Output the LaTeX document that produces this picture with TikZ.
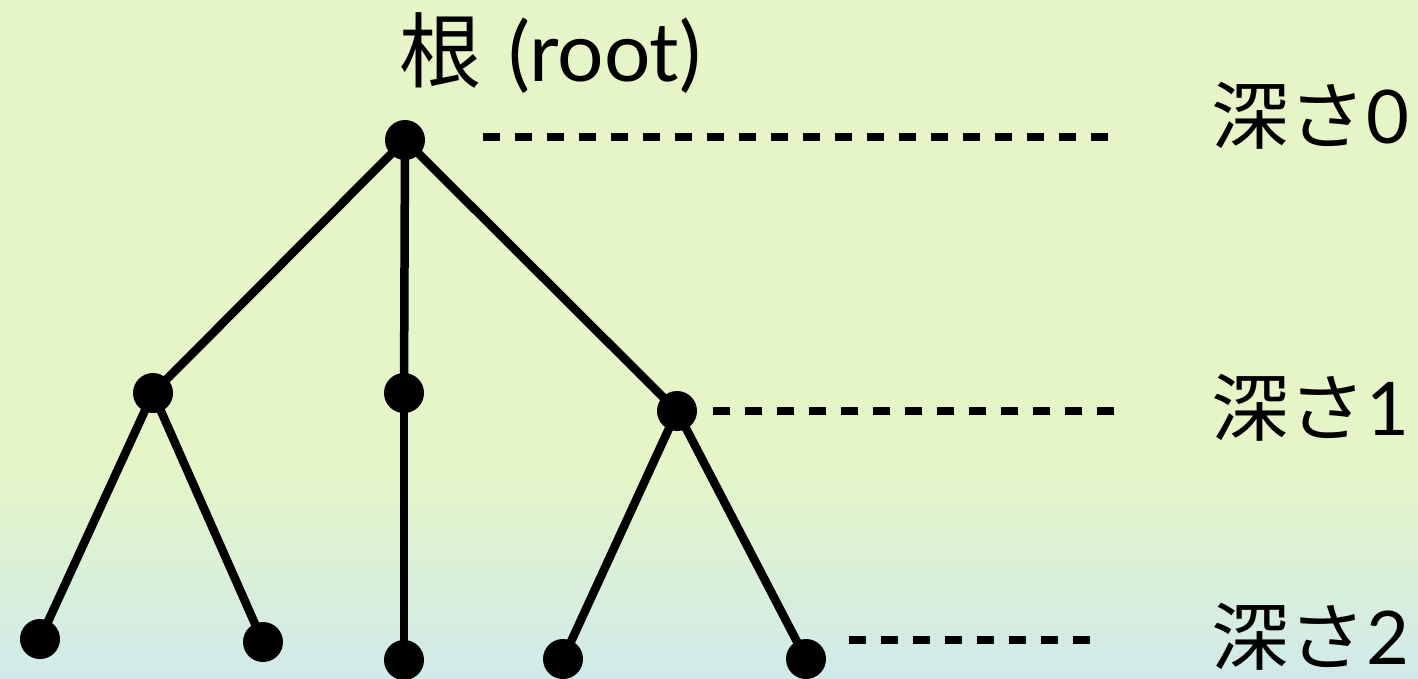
\documentclass[tikz,border=0pt]{standalone}
\usepackage{fontspec}
\usepackage{graphicx}
\setmainfont{Lato}
\newfontfamily\cjk{Noto Sans CJK JP}
\definecolor{bgtop}{RGB}{229,245,199}
\definecolor{bgbot}{RGB}{208,234,234}

\begin{document}
\begin{tikzpicture}[x=1pt,y=-1pt,
  dot/.style={circle,fill=black,inner sep=0pt,minimum size=40pt},
  edge/.style={line width=8.5pt},
  levelline/.style={line width=8.5pt,dash pattern=on 17pt off 15pt},
  depthlabel/.style={anchor=base west,inner sep=0pt,font=\fontsize{74}{80}\selectfont}]

  % canvas with soft green-to-blue backdrop
  \useasboundingbox (0,0) rectangle (1418,678);
  \fill[bgtop] (0,0) rectangle (1418,470);
  \shade[top color=bgtop,bottom color=bgbot] (0,469) rectangle (1418,678);

  % tree vertices
  \coordinate (r)  at (405,140);
  \coordinate (a)  at (153,393);
  \coordinate (b)  at (404,393);
  \coordinate (c)  at (677,411);
  \coordinate (a1) at (40,639);
  \coordinate (a2) at (263,642);
  \coordinate (b1) at (404,660);
  \coordinate (c1) at (563,659);
  \coordinate (c2) at (806,659);

  % edges
  \draw[edge] (r) -- (a);
  \draw[edge] (r) -- (b);
  \draw[edge] (r) -- (c);
  \draw[edge] (a) -- (a1);
  \draw[edge] (a) -- (a2);
  \draw[edge] (b) -- (b1);
  \draw[edge] (c) -- (c1);
  \draw[edge] (c) -- (c2);

  % vertex dots
  \foreach \v in {r,a,b,c,a1,a2,b1,c1,c2}
    \node[dot] (\v-dot) at (\v) {};

  % depth guide lines
  \coordinate (d0s) at (483,137);  \coordinate (d0e) at (1108,137);
  \coordinate (d1s) at (713,411);  \coordinate (d1e) at (1114,411);
  \coordinate (d2s) at (849,640);  \coordinate (d2e) at (1090,640);
  \draw[levelline] (d0s) -- (d0e);
  \draw[levelline] (d1s) -- (d1e);
  \draw[levelline] (d2s) -- (d2e);

  % labels
  \node[anchor=base west,inner sep=0pt,font=\fontsize{82}{88}\selectfont]
    (rootlabel) at (399,81) {{\cjk 根}\hspace{6pt} (root)};
  \node[depthlabel] (lab0) at (1211,143) {{\cjk\scalebox{1.05}[1]{深さ}}0};
  \node[depthlabel] (lab1) at (1211,435) {{\cjk\scalebox{1.05}[1]{深さ}}1};
  \node[depthlabel] (lab2) at (1211,664) {{\cjk\scalebox{1.05}[1]{深さ}}2};
\end{tikzpicture}
\end{document}
